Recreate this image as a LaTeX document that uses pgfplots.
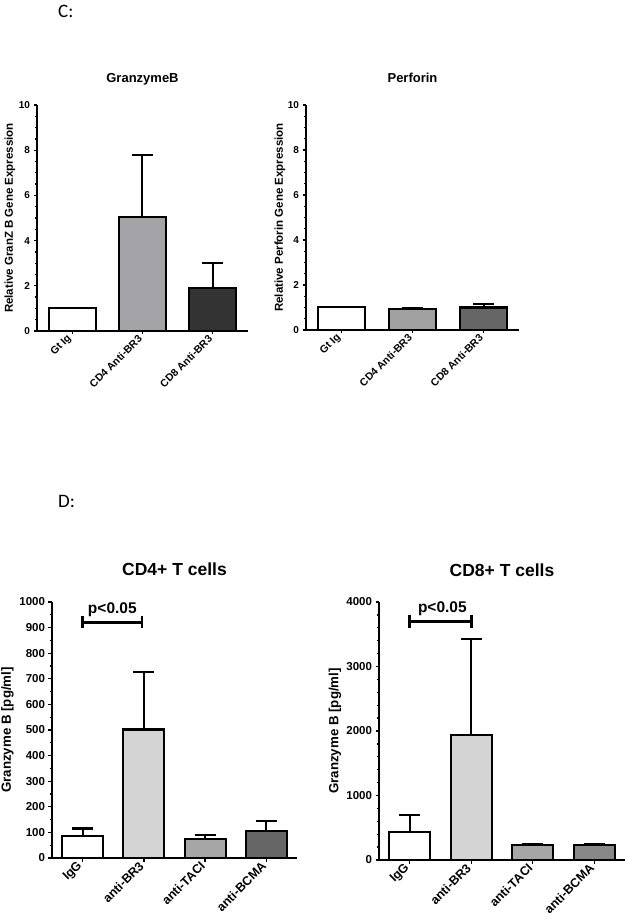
\documentclass[border=0pt]{standalone}
\usepackage{fontspec}
\setmainfont{Liberation Sans}
\newfontfamily\carlito{Carlito}
\usepackage{pgfplots}
\pgfplotsset{compat=1.18}

\definecolor{gA}{HTML}{A3A3A8}
\definecolor{gB}{HTML}{333333}
\definecolor{gC}{HTML}{A0A0A0}
\definecolor{gD}{HTML}{666666}
\definecolor{gE}{HTML}{D4D4D4}
\definecolor{gF}{HTML}{A6A6A6}
\definecolor{gG}{HTML}{888888}

\pgfplotsset{
  common/.style={
    scale only axis, axis lines=left, axis line style={-, line width=1.8pt},
    tick align=outside, major tick length=3.5pt, minor tick length=2pt,
    every tick/.style={black, line width=1.3pt},
    ymin=0, xmin=-0.5, clip=false,
    /pgf/number format/assume math mode=true,
    /pgf/number format/1000 sep={},
    scaled y ticks=false,
    ylabel style={anchor=center},
    title style={at={(0.5,1)}, anchor=base},
    xticklabel style={rotate=45, anchor=east},
  },
  cpanel/.style={common, xmax=2.5, xtick={0,1,2},
    xticklabels={Gt Ig,CD4 Anti-BR3,CD8 Anti-BR3},
    ytick={0,2,...,10}, minor y tick num=3, ymax=10,
    tick label style={font=\bfseries\fontsize{10}{12}\selectfont},
    xticklabel style={font=\bfseries\fontsize{10.5}{12}\selectfont},
    label style={font=\bfseries\fontsize{11.5}{13}\selectfont},
    title style={font=\bfseries\fontsize{13}{15}\selectfont, yshift=16pt},
  },
  dpanel/.style={common, xmax=3.5, xtick={0,1,2,3},
    xticklabels={IgG,anti-BR3,anti-TACI,anti-BCMA},
    tick label style={font=\bfseries\fontsize{11.5}{13}\selectfont},
    xticklabel style={font=\bfseries\fontsize{12.5}{14}\selectfont},
    label style={font=\bfseries\fontsize{13.3}{15}\selectfont},
    title style={font=\bfseries\fontsize{17.5}{20}\selectfont, yshift=20pt},
  },
  bar/.style={ybar, bar width=0.67, draw=black, line width=2.2pt,
    error bars/y dir=plus, error bars/y explicit,
    error bars/error bar style={line width=2pt, black},
    error bars/error mark options={rotate=90, line width=2.2pt, mark size=10.5pt, black}},
}

\begin{document}
\begin{tikzpicture}[x=1pt,y=1pt]
\useasboundingbox (0,0) rectangle (628,921);

\node[anchor=west, font=\carlito\fontsize{19}{22}\selectfont, inner sep=0pt] at (58,910) {C:};
\node[anchor=west, font=\carlito\fontsize{19}{22}\selectfont, inner sep=0pt] at (58,419.5) {D:};

% C left: GranzymeB
\begin{axis}[cpanel, at={(37pt,590pt)}, anchor=south west, width=211pt, height=226pt,
  title={GranzymeB}, ylabel={Relative GranZ B Gene Expression},
  ylabel style={at={(axis description cs:-0.128,0.5)}}]
\addplot[bar, fill=white] coordinates {(0,1.0) +- (0,0)};
\addplot[bar, fill=gA] coordinates {(1,5.05) +- (0,2.72)};
\addplot[bar, fill=gB] coordinates {(2,1.92) +- (0,1.08)};
\end{axis}

% C right: Perforin
\begin{axis}[cpanel, at={(306pt,591pt)}, anchor=south west, width=213pt, height=225pt,
  title={Perforin}, ylabel={Relative Perforin Gene Expression},
  ylabel style={at={(axis description cs:-0.122,0.5)}}]
\addplot[bar, fill=white] coordinates {(0,1.02) +- (0,0)};
\addplot[bar, fill=gC] coordinates {(1,0.92) +- (0,0.06)};
\addplot[bar, fill=gD] coordinates {(2,1.0) +- (0,0.16)};
\end{axis}

% D left: CD4+ T cells
\begin{axis}[dpanel, at={(52pt,63pt)}, anchor=south west, width=245pt, height=256pt,
  ymax=1000, ytick={0,100,...,1000}, minor y tick num=1,
  title={CD4+ T cells}, ylabel={Granzyme B [pg/ml]},
  ylabel style={at={(axis description cs:-0.182,0.5)}}]
\addplot[bar, fill=white] coordinates {(0,86) +- (0,29)};
\addplot[bar, fill=gE] coordinates {(1,502) +- (0,223)};
\addplot[bar, fill=gF] coordinates {(2,74) +- (0,17)};
\addplot[bar, fill=gD] coordinates {(3,104) +- (0,41)};
\draw[line width=2.8pt] (axis cs:0,920) -- (axis cs:0.97,920);
\draw[line width=2.8pt] ([yshift=-6pt]axis cs:0,920) -- ([yshift=6pt]axis cs:0,920);
\draw[line width=2.8pt] ([yshift=-6pt]axis cs:0.97,920) -- ([yshift=6pt]axis cs:0.97,920);
\node[anchor=base, font=\bfseries\fontsize{15.5}{18}\selectfont, inner sep=0pt] at (axis cs:0.485,954) {p<0.05};
\end{axis}

% D right: CD8+ T cells
\begin{axis}[dpanel, at={(379pt,61pt)}, anchor=south west, width=246pt, height=258pt,
  ymax=4000, ytick={0,1000,...,4000}, minor y tick num=4,
  title={CD8+ T cells}, ylabel={Granzyme B [pg/ml]},
  ylabel style={at={(axis description cs:-0.179,0.5)}}]
\addplot[bar, fill=white] coordinates {(0,430) +- (0,268)};
\addplot[bar, fill=gE] coordinates {(1,1943) +- (0,1479)};
\addplot[bar, fill=gF] coordinates {(2,233) +- (0,12)};
\addplot[bar, fill=gG] coordinates {(3,232) +- (0,12)};
\draw[line width=2.8pt] (axis cs:0,3700) -- (axis cs:1,3700);
\draw[line width=2.8pt] ([yshift=-6.5pt]axis cs:0,3700) -- ([yshift=6.5pt]axis cs:0,3700);
\draw[line width=2.8pt] ([yshift=-6.5pt]axis cs:1,3700) -- ([yshift=6.5pt]axis cs:1,3700);
\node[anchor=base, font=\bfseries\fontsize{15.5}{18}\selectfont, inner sep=0pt] at (axis cs:0.53,3830) {p<0.05};
\end{axis}
\end{tikzpicture}
\end{document}
